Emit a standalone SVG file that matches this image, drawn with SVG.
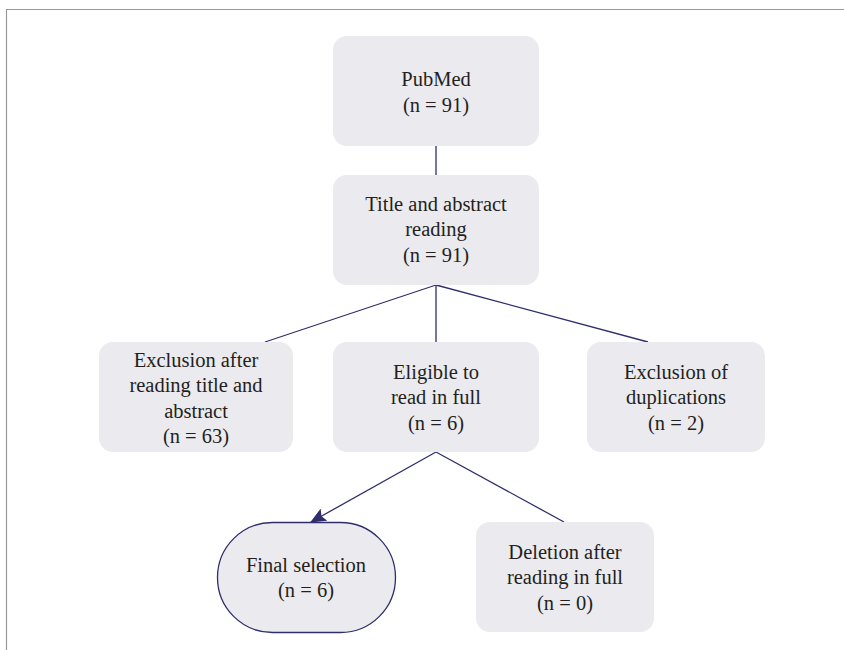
<svg xmlns="http://www.w3.org/2000/svg" width="844" height="650" viewBox="0 0 844 650">
<style>
.box{fill:#ebeaef;}
.t{font-family:"Liberation Serif","Times New Roman",serif;font-size:20.5px;fill:#231f20;text-anchor:middle;}
.c{stroke:#2f2e6b;stroke-width:1.3;fill:none;}
</style>
<defs>
<marker id="ah" markerWidth="16" markerHeight="14" refX="15" refY="7" orient="auto" markerUnits="userSpaceOnUse">
<path d="M0,0 L16,7 L0,14 L3,7 Z" fill="#2f2e6b"/>
</marker>
</defs>
<rect width="844" height="650" fill="#fff"/>
<path d="M6.5,650 V9.5 H844" fill="none" stroke="#999" stroke-width="1.2"/>
<g id="connectors">
<line class="c" x1="436" y1="146" x2="436" y2="175"/>
<line class="c" x1="436" y1="285" x2="265" y2="342"/>
<line class="c" x1="436" y1="285" x2="436" y2="342"/>
<line class="c" x1="436" y1="285" x2="648" y2="342"/>
<line class="c" x1="436" y1="452" x2="311" y2="522" marker-end="url(#ah)"/>
<line class="c" x1="436" y1="452" x2="564" y2="522"/>
</g>
<g id="pubmed">
<rect class="box" x="333" y="36" width="206" height="110" rx="14"/>
<text class="t" x="436" y="86">PubMed</text>
<text class="t" x="436" y="112">(n = 91)</text>
</g>
<g id="title-abstract">
<rect class="box" x="333" y="175" width="206" height="110" rx="14"/>
<text class="t" x="436" y="211">Title and abstract</text>
<text class="t" x="436" y="236">reading</text>
<text class="t" x="436" y="262">(n = 91)</text>
</g>
<g id="exclusion-title">
<rect class="box" x="99" y="342" width="194" height="110" rx="14"/>
<text class="t" x="196" y="367">Exclusion after</text>
<text class="t" x="196" y="392">reading title and</text>
<text class="t" x="196" y="418">abstract</text>
<text class="t" x="196" y="443">(n = 63)</text>
</g>
<g id="eligible">
<rect class="box" x="333" y="342" width="206" height="110" rx="14"/>
<text class="t" x="436" y="379">Eligible to</text>
<text class="t" x="436" y="404">read in full</text>
<text class="t" x="436" y="430">(n = 6)</text>
</g>
<g id="exclusion-dup">
<rect class="box" x="587" y="342" width="178" height="110" rx="14"/>
<text class="t" x="676" y="379">Exclusion of</text>
<text class="t" x="676" y="404">duplications</text>
<text class="t" x="676" y="430">(n = 2)</text>
</g>
<g id="final">
<rect x="217.5" y="522.5" width="178" height="110" rx="55" ry="55" fill="#ebeaef" stroke="#2f2e6b" stroke-width="1.3"/>
<text class="t" x="306" y="572">Final selection</text>
<text class="t" x="306" y="597">(n = 6)</text>
</g>
<g id="deletion">
<rect class="box" x="476" y="522" width="178" height="110" rx="14"/>
<text class="t" x="565" y="559">Deletion after</text>
<text class="t" x="565" y="584">reading in full</text>
<text class="t" x="565" y="610">(n = 0)</text>
</g>
</svg>
